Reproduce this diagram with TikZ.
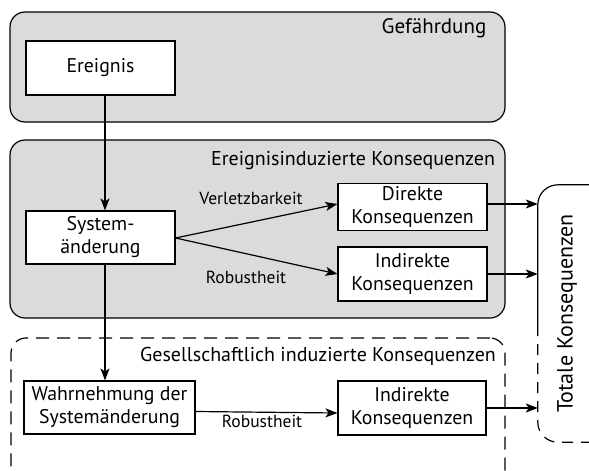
\documentclass[tikz,border=0pt]{standalone}
\usepackage{fontspec}
\setmainfont{PT Sans}
\usetikzlibrary{arrows.meta}
\definecolor{panelgray}{RGB}{218,219,221}
\begin{document}
\begin{tikzpicture}[x=1pt,y=-1pt,
  panel/.style={draw=black, line width=1.2pt, rounded corners=15pt, inner sep=0pt},
  box/.style={draw=black, fill=white, line width=1.1pt, align=center, inner sep=0pt,
    font=\fontsize{19.8}{23}\selectfont},
  title/.style={font=\fontsize{20}{23}\selectfont, inner sep=0pt},
  edgelabel/.style={font=\fontsize{17.5}{20}\selectfont, inner sep=0pt},
  arrow/.style={line width=1.2pt, -{Stealth[length=12pt,width=9pt,inset=3pt]}}
]
\useasboundingbox (0,0) rectangle (589,471);

% containers
\node[panel, fill=panelgray, minimum width=495pt, minimum height=110pt] (gef) at (257.5,67) {};
\node[panel, fill=panelgray, minimum width=495pt, minimum height=178pt] (evc) at (257.5,229) {};
\node[panel, dashed, dash pattern=on 13pt off 8pt, minimum width=494pt, minimum height=146pt] (soc) at (258,411) {};

\node[title, font=\fontsize{21}{23}\selectfont] (gefT) at (434,28) {Gefährdung};
\node[title] (evcT) at (353,161) {Ereignisinduzierte Konsequenzen};
\node[title] (socT) at (318,356) {Gesellschaftlich induzierte Konsequenzen};

% process boxes
\node[box, minimum width=149pt, minimum height=54pt] (ereignis) at (100.5,68) {Ereignis};
\node[box, minimum width=149pt, minimum height=53pt] (system) at (100.5,237.5) {System-\\änderung};
\node[box, minimum width=149pt, minimum height=47pt] (direkt) at (412.5,207) {Direkte\\Konsequenzen};
\node[box, minimum width=149pt, minimum height=54pt] (indirektA) at (412.5,274) {Indirekte\\Konsequenzen};
\node[box, minimum width=171pt, minimum height=53pt] (wahr) at (109.5,407.5) {Wahrnehmung der\\Systemänderung};
\node[box, minimum width=148pt, minimum height=54pt] (indirektB) at (412,408) {Indirekte\\Konsequenzen};

% total consequences frame: solid above, dashed below
\node[inner sep=0pt, minimum width=62pt, minimum height=257pt] (totale) at (569,313.5)
  {\hspace*{-4pt}\fontsize{22}{24}\selectfont\rotatebox{90}{Totale Konsequenzen}};
\coordinate (split) at (totale.west |- 0,325);
\draw[line width=1.2pt, rounded corners=20pt] (split) -- (totale.north west) -- ++(80,0);
\draw[line width=1.2pt, dashed, dash pattern=on 11pt off 8pt, rounded corners=20pt]
  (split) -- (totale.south west) -- ++(80,0);

% connector end points
\coordinate (dOut) at ([yshift=3pt]direkt.east);
\coordinate (sOut) at ([yshift=-0.5pt]system.east);

% connectors
\draw[arrow] ([xshift=4.5pt]ereignis.south) -- ([xshift=4.5pt]system.north);
\draw[arrow] ([xshift=4.5pt]system.south) -- ([xshift=-4.5pt]wahr.north);
\draw[arrow] (sOut) -- ([yshift=3pt]direkt.west);
\draw[arrow] (sOut) -- (indirektA.west);
\draw[arrow] ([yshift=-4pt]wahr.east) -- ([yshift=-5pt]indirektB.west);
\draw[arrow] (dOut) -- (totale.west |- dOut);
\draw[arrow] (indirektA.east) -- (totale.west |- indirektA.east);
\draw[arrow] (indirektB.east) -- (totale.west |- indirektB.east);

% edge labels
\node[edgelabel] (lv) at (251,198) {Verletzbarkeit};
\node[edgelabel] (lr1) at (246,277) {Robustheit};
\node[edgelabel] (lr2) at (262,421) {Robustheit};
\end{tikzpicture}
\end{document}
